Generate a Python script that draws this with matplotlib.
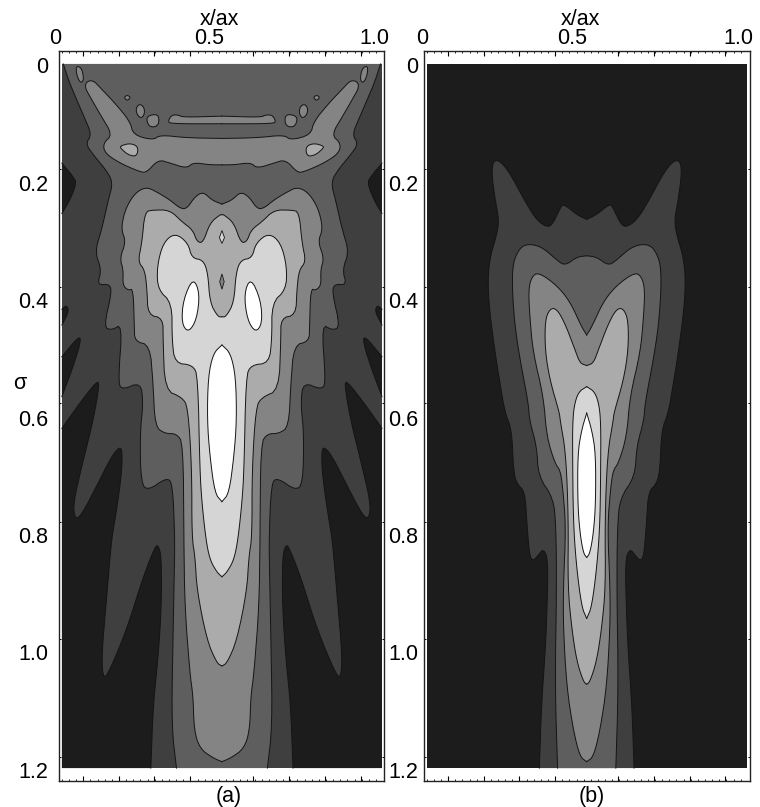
import matplotlib
matplotlib.use('Agg')
import matplotlib.pyplot as plt
from matplotlib.transforms import ScaledTranslation
import numpy as np

plt.rcParams['font.family'] = ['Liberation Sans', 'DejaVu Sans']

# grey levels of the contour bands, darkest to white
L0, L1, L2, L3, L4, L5, L6 = '#1c1c1c', '#3f3f3f', '#5e5e5e', '#848484', '#ababab', '#d5d5d5', '#ffffff'

sigma_ticks = [0, 0.2, 0.4, 0.6, 0.8, 1.0, 1.2]
sigma_labels = ['0', '0.2', '0.4', '0.6', '0.8', '1.0', '1.2']
sigma_marks = [0.179, 0.380, 0.578, 0.781, 0.980, 1.181]  # tick marks sit off the labels in the original
x_marks = [0.067, 0.178, 0.288, 0.400, 0.598, 0.709, 0.822, 0.933]

# --- panel (a), left half of each contour, the right half is the mirror ---
a_dark_x = [0, .056, .110, .117, .098, .067, .035, .041, .061, .108, .155, .181, .189, .186, .166, .155,
            .140, .124, .129, .145, .202, .254, .291, .301, .311, .311, .301, .285, .278]
a_dark_s = [.621, .578, .540, .547, .607, .675, .749, .776, .769, .720, .669, .652, .661, .703, .777, .811,
            .908, 1.010, 1.047, 1.039, .965, .874, .823, .820, .840, .925, 1.010, 1.095, 1.2]
a_patch1_x = [0, .035, .046, .025, 0]
a_patch1_s = [.169, .192, .203, .232, .255]
a_patch2_x = [0, .015, .022, 0]
a_patch2_s = [.418, .411, .422, .445]
a_patch3_x = [0, .056, .058, .035, 0]
a_patch3_s = [.499, .462, .476, .516, .567]

a_l2_x = [.004, .006, .020, .046, .072, .093, .074, .098, .134, .160, .145, .124, .103, .124, .110, .150,
          .155, .131, .155, .189, .176, .186, .246, .254, .244, .247, .270, .327, .346, .353, .351, .346,
          .343, .358]
a_l2_s = [0, .002, .027, .061, .093, .121, .136, .155, .178, .201, .232, .283, .320, .351, .377, .375,
          .391, .448, .454, .443, .539, .556, .542, .578, .630, .715, .727, .705, .715, .811, .868, .999,
          1.13, 1.2]

a_band_x = [.5, .390, .306, .285, .223, .213, .166, .119, .098, .077, .072, .088, .124, .158, .129, .134,
            .181, .244, .265, .301, .338, .390, .410, .463, .5]
a_band_s = [.127, .126, .121, .130, .121, .098, .067, .040, .028, .030, .040, .056, .090, .121, .135, .152,
            .169, .184, .185, .163, .169, .178, .168, .172, .172]
a_strip_x = [.5, .379, .364, .343, .332, .338, .5]
a_strip_s = [.089, .091, .087, .087, .097, .102, .102]
a_tip_x = [.044, .062, .069, .058, .046]
a_tip_s = [.003, .007, .027, .033, .019]
a_dot_x = [.194, .204, .215, .204]
a_dot_s = [.057, .053, .057, .063]
a_isl1_x = [.231, .242, .256, .259, .249, .235]
a_isl1_s = [.076, .068, .073, .084, .093, .087]
a_isl2_x = [.263, .301, .304, .291, .270]
a_isl2_s = [.089, .085, .101, .108, .106]
a_isl3_x = [.181, .213, .239, .234, .207, .186]
a_isl3_s = [.140, .135, .141, .158, .155, .145]

a_l3_x = [.5, .468, .442, .416, .390, .369, .338, .296, .265, .233, .207, .192, .186, .200, .181, .192, .190,
          .207, .223, .226, .228, .275, .285, .291, .322, .358, .379, .381, .384, .400, .410, .413, .431,
          .473, .5]
a_l3_s = [.239, .232, .218, .226, .247, .246, .232, .218, .210, .218, .238, .260, .283, .303, .331, .351, .377,
          .386, .383, .448, .473, .479, .544, .618, .630, .630, .647, .811, .925, 1.039, 1.078, 1.135, 1.167,
          1.183, 1.189]
a_l4_x = [.5, .494, .4625, .441, .422, .409, .375, .3375, .284, .259, .25, .2375, .259, .266, .269, .316, .316,
          .322, .375, .394, .406, .406, .416, .422, .453, .484, .5]
a_l4_s = [.257, .257, .271, .305, .303, .283, .269, .249, .249, .252, .305, .337, .351, .385, .428, .433, .470,
          .556, .568, .585, .692, .806, .840, .897, .982, 1.021, 1.026]
a_l5_x = [.5, .4875, .4625, .456, .441, .406, .394, .353, .316, .297, .3, .344, .344, .353, .409, .425, .431,
          .4375, .45, .4625, .484, .5]
a_l5_s = [.431, .431, .407, .356, .334, .331, .305, .288, .305, .346, .385, .407, .470, .510, .513, .533, .692,
          .748, .811, .845, .866, .874]
a_lobe_x = [.410, .431, .421, .395, .374, .379]
a_lobe_s = [.364, .391, .436, .458, .442, .402]
a_core_x = [.5, .473, .457, .454, .4625, .478, .5]
a_core_s = [.479, .493, .533, .607, .669, .732, .746]
a_spot_x = [.492, .5, .508, .5]
a_spot_s = [.296, .284, .296, .306]
a_slot_x = [.493, .5, .507, .5]
a_slot_s = [.371, .358, .371, .384]

# --- panel (b) ---
b_l1_x = [.5, .469, .427, .417, .391, .370, .339, .302, .26, .229, .208, .203, .214, .226, .219, .198, .191,
          .196, .214, .229, .245, .266, .271, .281, .307, .3125, .318, .323, .333, .349, .365, .380, .375,
          .370, .359, .352]
b_l1_s = [.265, .257, .238, .246, .276, .277, .263, .229, .186, .165, .165, .186, .232, .266, .291, .329, .368,
          .419, .493, .544, .595, .624, .692, .715, .729, .777, .817, .840, .847, .837, .826, .846, .948,
          1.005, 1.090, 1.2]
b_l2_x = [.5, .469, .432, .406, .365, .329, .297, .276, .268, .268, .276, .292, .318, .321, .344, .349, .396,
          .404, .406, .401, .409]
b_l2_s = [.327, .329, .344, .334, .314, .307, .310, .329, .351, .391, .448, .505, .579, .607, .652, .703, .740,
          .789, .891, 1.061, 1.2]
b_l3_x = [.5, .484, .448, .406, .349, .328, .318, .323, .333, .365, .375, .401, .417, .425, .435, .427, .427,
          .4375, .458, .479, .5]
b_l3_s = [.462, .448, .405, .377, .355, .363, .385, .437, .493, .567, .635, .681, .692, .721, .789, .891, .961,
          1.061, 1.135, 1.181, 1.189]
b_l4_x = [.5, .479, .464, .432, .406, .385, .370, .370, .385, .415, .417, .435, .443, .441, .453, .469, .49, .5]
b_l4_s = [.514, .510, .488, .442, .417, .417, .437, .488, .539, .595, .607, .664, .777, .891, .961, 1.018,
          1.053, 1.057]
b_l5_x = [.5, .474, .460, .456, .456, .458, .467, .484, .5]
b_l5_s = [.550, .559, .584, .618, .664, .777, .851, .925, .945]
b_core_x = [.5, .484, .472, .472, .479, .49, .5]
b_core_s = [.595, .624, .664, .749, .800, .834, .841]


# corner cutting, the traced outlines are too angular otherwise
def smooth(x, s, closed=False, n=2):
    p = np.column_stack([x, s]).astype(float)
    for _ in range(n):
        if closed:
            a, b = p, np.roll(p, -1, axis=0)
        else:
            a, b = p[:-1], p[1:]
        mid = np.empty((2 * len(a), 2))
        mid[0::2] = .75 * a + .25 * b
        mid[1::2] = .25 * a + .75 * b
        p = mid if closed else np.vstack([p[:1], mid, p[-1:]])
    return p[:, 0], p[:, 1]


# contour crossing the centre line or running top to bottom
def draw_sym(ax, x, s, col):
    xs, ss = smooth(x, s)
    ax.fill(np.r_[xs, 1 - xs[::-1]], np.r_[ss, ss[::-1]], color=col, lw=0, zorder=2)
    ax.plot(xs, ss, color='#141414', lw=0.7, zorder=3)
    ax.plot(1 - xs, ss, color='#141414', lw=0.7, zorder=3)


# region hanging on the side edges
def draw_side(ax, x, s, col):
    xs, ss = smooth(x, s)
    for xx, edge in ((xs, 0), (1 - xs, 1)):
        ax.fill(np.r_[xx, edge], np.r_[ss, ss[-1]], color=col, lw=0, zorder=2)
        ax.plot(xx, ss, color='#141414', lw=0.7, zorder=3)


# closed island, drawn on both sides
def draw_island(ax, x, s, col):
    xs, ss = smooth(x, s, closed=True)
    for xx in (xs, 1 - xs):
        ax.fill(xx, ss, facecolor=col, edgecolor='#141414', lw=0.7, zorder=3)


def base(ax, col):
    ax.fill([0, 1, 1, 0], [0, 0, 1.2, 1.2], color=col, lw=0, zorder=1)


def dress(ax, xlim, pad, lab_x, title_x, tag, tag_x):
    ax.set_xlim(*xlim)
    ax.set_ylim(1.222, -0.022)
    ax.set_yticks(sigma_ticks)
    ax.set_yticklabels(sigma_labels, fontsize=15.5)
    ax.tick_params(axis='y', which='major', length=0, pad=pad)
    shift = ScaledTranslation(0, -1.5 / 100, fig.dpi_scale_trans)
    for lab in ax.get_yticklabels():
        lab.set_transform(lab.get_transform() + shift)
    ax.set_yticks(sigma_marks, minor=True)
    ax.tick_params(axis='y', which='minor', direction='in', length=1.5, width=0.7, right=True)
    ax.set_xticks(x_marks)
    ax.set_xticklabels([])
    ax.set_xticks(np.arange(0, 1.0, 0.0223), minor=True)
    ax.tick_params(axis='x', which='major', direction='in', length=3.5, width=0.8, top=True)
    ax.tick_params(axis='x', which='minor', direction='in', length=1.6, width=0.6, top=True)
    for side in ax.spines.values():
        side.set_linewidth(1.0)
        side.set_color('#222222')
    for xp, txt in zip(lab_x, ['0', '0.5', '1.0']):
        ax.text(xp, -0.044, txt, fontsize=15.5, ha='center', va='center', clip_on=False)
    ax.text(title_x, -0.076, 'x/ax', fontsize=15.5, ha='center', va='center', clip_on=False)
    ax.text(tag_x, 1.248, tag, fontsize=15.5, ha='center', va='center', clip_on=False)


fig = plt.figure(figsize=(7.6, 8.07), dpi=100)
ax_a = fig.add_axes([59 / 760, 26 / 807, 325 / 760, 730 / 807])
ax_b = fig.add_axes([424 / 760, 26 / 807, 326 / 760, 730 / 807])

# panel a
base(ax_a, L1)
draw_side(ax_a, a_dark_x, a_dark_s, L0)
draw_side(ax_a, a_patch1_x, a_patch1_s, L0)
draw_side(ax_a, a_patch2_x, a_patch2_s, L0)
draw_side(ax_a, a_patch3_x, a_patch3_s, L0)
draw_sym(ax_a, a_l2_x, a_l2_s, L2)
draw_sym(ax_a, a_band_x, a_band_s, L3)
draw_sym(ax_a, a_strip_x, a_strip_s, L3)
for ix, iy in [(a_tip_x, a_tip_s), (a_dot_x, a_dot_s), (a_isl1_x, a_isl1_s), (a_isl2_x, a_isl2_s)]:
    draw_island(ax_a, ix, iy, L3)
draw_island(ax_a, a_isl3_x, a_isl3_s, L4)
draw_sym(ax_a, a_l3_x, a_l3_s, L3)
draw_sym(ax_a, a_l4_x, a_l4_s, L4)
draw_sym(ax_a, a_l5_x, a_l5_s, L5)
draw_island(ax_a, a_lobe_x, a_lobe_s, L6)
draw_sym(ax_a, a_core_x, a_core_s, L6)
ax_a.fill(a_spot_x, a_spot_s, facecolor=L5, edgecolor='#141414', lw=0.6, zorder=4)
ax_a.fill(a_slot_x, a_slot_s, facecolor=L3, edgecolor='#141414', lw=0.6, zorder=4)
dress(ax_a, (-0.009, 1.00625), 7.5, [-0.022, 0.459, 0.975], 0.493, '(a)', 0.522)
ax_a.text(-0.131, 0.545, '\u03c3', fontsize=15.5, ha='center', va='center', clip_on=False)

# panel b
base(ax_b, L0)
for cx, cs, col in [(b_l1_x, b_l1_s, L1), (b_l2_x, b_l2_s, L2), (b_l3_x, b_l3_s, L3), (b_l4_x, b_l4_s, L4),
                    (b_l5_x, b_l5_s, L5), (b_core_x, b_core_s, L6)]:
    draw_sym(ax_b, cx, cs, col)
dress(ax_b, (-0.0084, 1.0103), 4.3, [-0.015, 0.453, 0.973], 0.479, '(b)', 0.517)

fig.savefig('out.png', dpi=100)
